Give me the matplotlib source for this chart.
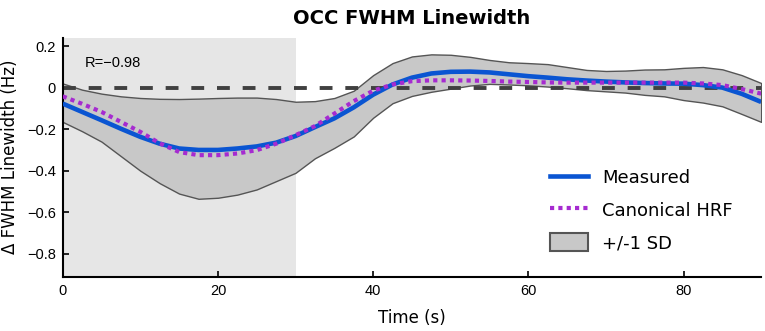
import numpy as np
import matplotlib
matplotlib.use("Agg")
import matplotlib.pyplot as plt
from matplotlib.patches import Patch
from matplotlib.lines import Line2D

time_s = [0, 2.5, 5, 7.5, 10, 12.5, 15, 17.5, 20, 22.5, 25, 27.5, 30, 32.5, 35, 37.5,
          40, 42.5, 45, 47.5, 50, 52.5, 55, 57.5, 60, 62.5, 65, 67.5, 70, 72.5, 75,
          77.5, 80, 82.5, 85, 87.5, 90]

measured = [-0.077, -0.117, -0.157, -0.198, -0.237, -0.270, -0.293, -0.300, -0.300,
            -0.293, -0.283, -0.265, -0.233, -0.190, -0.148, -0.095, -0.034, 0.015,
            0.048, 0.068, 0.076, 0.077, 0.073, 0.064, 0.055, 0.048, 0.040, 0.034,
            0.029, 0.025, 0.022, 0.020, 0.019, 0.012, 0.000, -0.030, -0.069]

canonical_hrf = [-0.042, -0.078, -0.117, -0.165, -0.213, -0.268, -0.310, -0.325, -0.325,
                 -0.317, -0.301, -0.270, -0.229, -0.185, -0.125, -0.065, -0.015, 0.015,
                 0.031, 0.035, 0.035, 0.034, 0.032, 0.029, 0.027, 0.025, 0.024, 0.024,
                 0.024, 0.024, 0.024, 0.024, 0.024, 0.020, 0.012, -0.007, -0.029]

sd_upper = [0.020, -0.010, -0.029, -0.042, -0.050, -0.054, -0.055, -0.053, -0.050,
            -0.048, -0.048, -0.055, -0.068, -0.065, -0.050, -0.015, 0.060, 0.118,
            0.150, 0.160, 0.158, 0.148, 0.133, 0.122, 0.118, 0.113, 0.099, 0.085,
            0.080, 0.082, 0.087, 0.088, 0.095, 0.099, 0.088, 0.060, 0.022]

sd_lower = [-0.165, -0.210, -0.260, -0.330, -0.400, -0.460, -0.510, -0.535, -0.530,
            -0.515, -0.490, -0.450, -0.410, -0.340, -0.290, -0.235, -0.145, -0.075,
            -0.040, -0.020, -0.005, 0.010, 0.018, 0.015, 0.011, 0.005, -0.003, -0.012,
            -0.018, -0.024, -0.035, -0.042, -0.060, -0.072, -0.090, -0.127, -0.165]

stim_block = (0, 30)
corr_label = "R=\u22120.98"
x_ticks = [0, 20, 40, 60, 80]
y_ticks = [0.2, 0, -0.2, -0.4, -0.6, -0.8]
y_tick_labels = ["0.2", "0", "\u22120.2", "\u22120.4", "\u22120.6", "\u22120.8"]
legend_labels = ["Measured", "Canonical HRF", "+/-1 SD"]

fig = plt.figure(figsize=(7.65, 3.31), dpi=100)
ax = fig.add_axes([0.082, 0.164, 0.913, 0.722])

ax.axvspan(stim_block[0], stim_block[1], color="#e6e6e6", zorder=0, lw=0)
ax.fill_between(time_s, sd_lower, sd_upper, facecolor="#c8c8c8", edgecolor="#555555",
                linewidth=1.0, zorder=1)
ax.axhline(0, color="#404040", linewidth=2.8, dashes=(3.3, 3.3), zorder=2)
ax.plot(time_s, measured, color="#0a55d2", linewidth=3.3, solid_capstyle="butt", zorder=3)
ax.plot(time_s, canonical_hrf, color="#a62bd0", linewidth=3.0, dashes=(1.0, 1.0), zorder=4)

ax.set_xlim(0, 90)
ax.set_ylim(-0.91, 0.24)
ax.set_xticks(x_ticks)
ax.set_yticks(y_ticks)
ax.set_yticklabels(y_tick_labels)
for lab in ax.get_xticklabels() + ax.get_yticklabels():
    lab.set_fontfamily("Liberation Sans")
    lab.set_fontsize(10.5)
ax.tick_params(direction="in", length=4, width=1.2, colors="black", pad=5)
for s in ["top", "right"]:
    ax.spines[s].set_visible(False)
for s in ["left", "bottom"]:
    ax.spines[s].set_linewidth(1.5)

ax.text(2.9, 0.12, corr_label, fontsize=10.5, family="Liberation Sans", va="center")

ax.set_xlabel("Time (s)", fontsize=12, family="DejaVu Sans", labelpad=8)
ax.set_ylabel("\u0394 FWHM Linewidth (Hz)", fontsize=12, family="DejaVu Sans", labelpad=6)
ax.set_title("OCC FWHM Linewidth", fontsize=14, fontweight="bold", family="DejaVu Sans", pad=10)

handles = [
    Line2D([], [], color="#0a55d2", linewidth=3.3),
    Line2D([], [], color="#a62bd0", linewidth=3.0, dashes=(1.0, 1.0)),
    Patch(facecolor="#c8c8c8", edgecolor="#555555", linewidth=1.5),
]
ax.legend(handles, legend_labels, loc="lower right",
          bbox_to_anchor=(0.983, 0.035), frameon=False, handlelength=2.1,
          handleheight=1.1, labelspacing=0.75, handletextpad=0.8, borderpad=0.4,
          prop={"family": "DejaVu Sans", "size": 13})

fig.savefig("out.png", dpi=100)
